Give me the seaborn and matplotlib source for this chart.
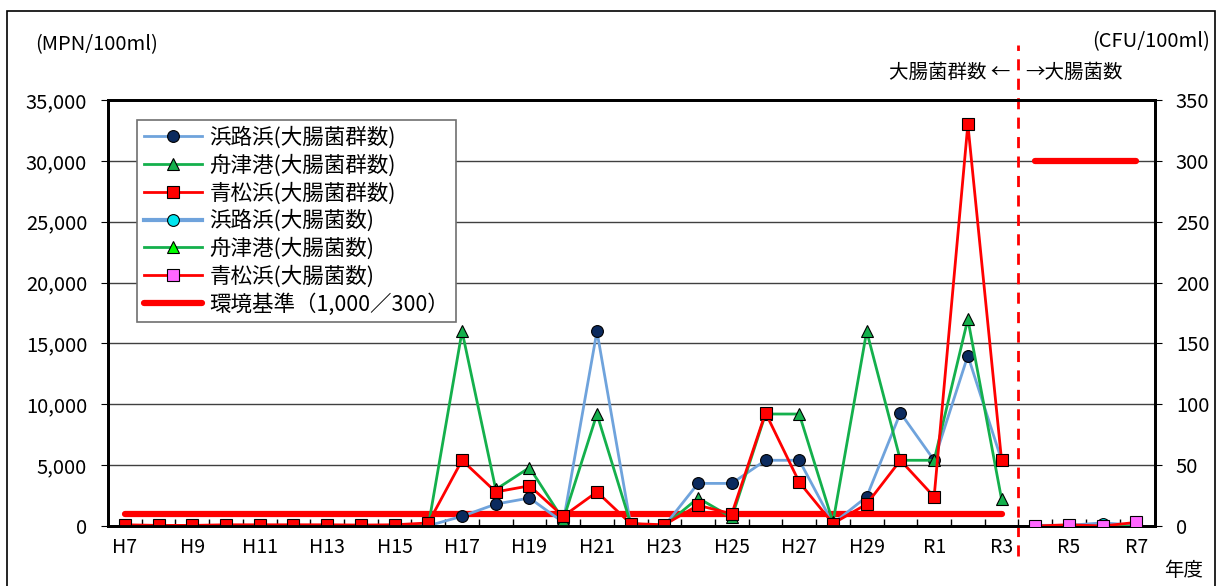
import numpy as np
import pandas as pd
import matplotlib
matplotlib.use("Agg")
import matplotlib.pyplot as plt
import seaborn as sns
from matplotlib.patches import Rectangle

# year labels (H31 = R1)
years = [f"H{i}" for i in range(7, 31)] + [f"R{i}" for i in range(1, 8)]
old_years = years[:27]   # H7..R3 : 大腸菌群数 (MPN/100ml)
new_years = years[27:]   # R4..R7 : 大腸菌数 (CFU/100ml)

# 大腸菌群数 H7..R3
hamaji_gun = [20, 20, 20, 20, 20, 20, 20, 20, 20, 20, 800, 1800, 2300, 300, 16000,
              100, 0, 3500, 3500, 5400, 5400, 200, 2400, 9300, 5400, 14000, 5400]
funatsu_gun = [0, 0, 0, 0, 0, 0, 0, 0, 0, 0, 16000, 3000, 4800, 500, 9200,
               200, 0, 2300, 700, 9200, 9200, 300, 16000, 5400, 5400, 17000, 2200]
aomatsu_gun = [100, 50, 50, 100, 100, 100, 100, 80, 100, 250, 5400, 2800, 3300, 800, 2800,
               200, 100, 1700, 1000, 9300, 3600, 200, 1800, 5400, 2400, 33000, 5400]

# 大腸菌数 R4..R7
hamaji_kin = [0, 0, 2, 0]
funatsu_kin = [0, 0, 0, 0]
aomatsu_kin = [0, 1, 0, 3]

std_old = 1000
std_new = 300

plt.rcParams['font.family'] = ['Noto Sans CJK JP', 'DejaVu Sans']

fig = plt.figure(figsize=(12.18, 5.86), dpi=100)
ax = fig.add_axes([108/1218, 1-526/586, (1155-108)/1218, (526-100)/586])
ax2 = ax.twinx()

x_old = np.arange(len(old_years))
x_new = np.arange(len(old_years), len(years))

# environmental standard
ax.plot([x_old[0], x_old[-1]], [std_old, std_old], color='#ff0000', lw=4.5,
        solid_capstyle='round', zorder=2)
ax2.plot([x_new[0], x_new[-1]], [std_new, std_new], color='#ff0000', lw=4.5,
         solid_capstyle='round', zorder=2, label='環境基準（1,000／300）')

ms = 8.5
sns.lineplot(x=x_old, y=hamaji_gun, ax=ax, color='#6fa3dc', lw=2, marker='o', markersize=ms,
             markerfacecolor='#0b2a5e', markeredgecolor='black', markeredgewidth=0.8,
             label='浜路浜(大腸菌群数)', legend=False, zorder=3)
sns.lineplot(x=x_old, y=funatsu_gun, ax=ax, color='#14b04c', lw=2, marker='^', markersize=ms,
             markerfacecolor='#14b04c', markeredgecolor='black', markeredgewidth=0.8,
             label='舟津港(大腸菌群数)', legend=False, zorder=3)
sns.lineplot(x=x_old, y=aomatsu_gun, ax=ax, color='#ff0000', lw=2, marker='s', markersize=ms,
             markerfacecolor='#ff0000', markeredgecolor='black', markeredgewidth=0.8,
             label='青松浜(大腸菌群数)', legend=False, zorder=3)

sns.lineplot(x=x_new, y=hamaji_kin, ax=ax2, color='#6fa3dc', lw=3, marker='o', markersize=ms,
             markerfacecolor='#00e5ee', markeredgecolor='black', markeredgewidth=0.8,
             label='浜路浜(大腸菌数)', legend=False, zorder=3)
sns.lineplot(x=x_new, y=funatsu_kin, ax=ax2, color='#14b04c', lw=2, marker='^', markersize=ms,
             markerfacecolor='#00ff00', markeredgecolor='black', markeredgewidth=0.8,
             label='舟津港(大腸菌数)', legend=False, zorder=3)
sns.lineplot(x=x_new, y=aomatsu_kin, ax=ax2, color='#ff0000', lw=2, marker='s', markersize=ms,
             markerfacecolor='#ff66ff', markeredgecolor='black', markeredgewidth=0.8,
             label='青松浜(大腸菌数)', legend=False, zorder=3)

# axes setup
ax.set_xlim(-0.5, len(years) - 0.45)
ax.set_ylim(0, 35000)
ax2.set_ylim(0, 350)
ax.set_yticks(np.arange(0, 35001, 5000))
ax.set_yticklabels([f"{v:,}" for v in range(0, 35001, 5000)])
ax2.set_yticks(np.arange(0, 351, 50))
ax.set_xticks(np.arange(0, len(years), 2))
ax.set_xticklabels(years[::2])
ax.set_xticks(np.arange(0.5, len(years) - 1, 1), minor=True)
ax.tick_params(axis='x', which='major', length=0, labelsize=14, pad=8)
ax.tick_params(axis='x', which='minor', direction='in', length=5, width=1)
ax.tick_params(axis='y', length=5, labelsize=14.5, pad=10)
ax2.tick_params(axis='y', length=5, labelsize=14.5, pad=10)
ax.set_xlabel('')
ax.set_ylabel('')
ax2.set_ylabel('')
for a in (ax, ax2):
    for s in a.spines.values():
        s.set_linewidth(2)
for v in range(5000, 35000, 5000):
    ax.axhline(v, color='#404040', lw=1, zorder=1)

# divider between the two measurement types
ax.axvline(len(old_years) - 0.5, ymin=-0.07, ymax=1.13, color='#ff0000', lw=2,
           ls=(0, (4, 3)), clip_on=False, zorder=4)

fig.text(1010/1218, 1-72/586, '大腸菌群数 ←', ha='right', va='center', fontsize=14)
fig.text(1025/1218, 1-72/586, '→大腸菌数', ha='left', va='center', fontsize=14)
fig.text(35/1218, 1-45/586, '(MPN/100ml)', ha='left', va='center', fontsize=14.5)
fig.text(1210/1218, 1-42/586, '(CFU/100ml)', ha='right', va='center', fontsize=14.5)
fig.text(1184/1218, 1-571/586, '年度', ha='center', va='center', fontsize=14)

fig.add_artist(Rectangle((7/1218, -0.05), (1215-7)/1218, 1.05-11/586,
                         transform=fig.transFigure, fill=False, edgecolor='black', lw=1.2))

h1, l1 = ax.get_legend_handles_labels()
h2, l2 = ax2.get_legend_handles_labels()
hd = dict(zip(l1 + l2, h1 + h2))
order = ['浜路浜(大腸菌群数)', '舟津港(大腸菌群数)', '青松浜(大腸菌群数)',
         '浜路浜(大腸菌数)', '舟津港(大腸菌数)', '青松浜(大腸菌数)', '環境基準（1,000／300）']
leg = ax2.legend([hd[k] for k in order], order, loc='upper left',
                 bbox_to_anchor=(0.028, 0.953), borderaxespad=0, fontsize=15.5,
                 fancybox=False, framealpha=1, edgecolor='#707070',
                 handlelength=2.7, handletextpad=0.35, labelspacing=0.25, borderpad=0.3)
leg.get_frame().set_linewidth(1.2)
leg.set_zorder(10)

fig.savefig('out.png', dpi=100)
